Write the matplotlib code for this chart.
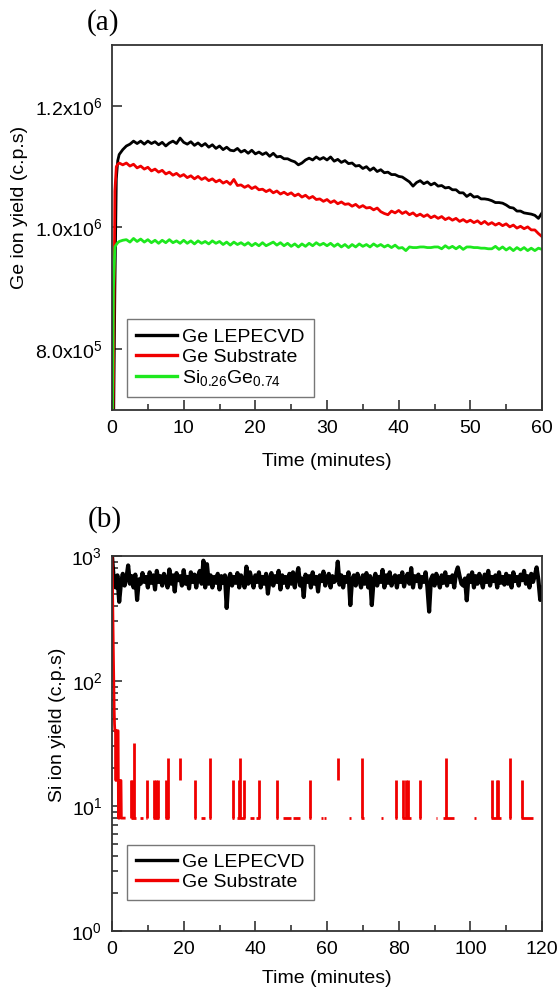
import numpy as np
import matplotlib
matplotlib.use("Agg")
import matplotlib.pyplot as plt
from matplotlib.ticker import MultipleLocator, FixedLocator, FixedFormatter, LogLocator, NullFormatter

plt.rcParams["font.family"] = ["Liberation Sans", "DejaVu Sans"]
plt.rcParams["mathtext.fontset"] = "custom"
plt.rcParams["mathtext.rm"] = "Liberation Sans"
plt.rcParams["mathtext.it"] = "Liberation Sans:italic"

# ---- panel (a): Ge ion yield, kc.p.s, time in minutes ----
ge_t = np.concatenate([[0.0, 0.2, 0.4, 0.6, 0.8], np.arange(1.0, 60.01, 0.5)])

ge_lepecvd = [600, 650, 900, 1080, 1110,
    1120, 1128, 1134, 1137, 1142, 1138, 1142, 1137, 1142, 1138, 1141,
    1136, 1140, 1134, 1139, 1142, 1138, 1147, 1140, 1137, 1141,
    1135, 1139, 1134, 1138, 1132, 1136, 1130, 1134, 1128, 1132,
    1127, 1126, 1130, 1124, 1127, 1122, 1127, 1121, 1124, 1120,
    1123, 1117, 1122, 1116, 1117, 1113, 1113, 1110, 1108, 1103,
    1106, 1111, 1114, 1111, 1116, 1112, 1115, 1111, 1116, 1109,
    1112, 1107, 1110, 1105, 1106, 1101, 1102, 1097, 1100, 1094,
    1098, 1092, 1095, 1090, 1091, 1087, 1087, 1084, 1083, 1079,
    1075, 1068, 1074, 1077, 1072, 1075, 1070, 1073, 1068, 1069,
    1065, 1066, 1062, 1062, 1057, 1057, 1051, 1055, 1050, 1051,
    1047, 1047, 1046, 1044, 1041, 1041, 1040, 1037, 1033, 1032,
    1027, 1027, 1024, 1023, 1022, 1020, 1015, 1024]

ge_substrate = [600, 750, 1060, 1100, 1104,
    1106, 1103, 1106, 1101, 1104, 1098, 1101, 1096, 1099, 1093, 1096,
    1091, 1094, 1088, 1091, 1086, 1089, 1084, 1087, 1082, 1085,
    1080, 1084, 1079, 1082, 1077, 1080, 1075, 1078, 1073, 1076,
    1071, 1079, 1069, 1070, 1066, 1069, 1064, 1067, 1062, 1063,
    1059, 1062, 1057, 1060, 1055, 1058, 1054, 1057, 1052, 1055,
    1050, 1053, 1048, 1051, 1046, 1047, 1043, 1046, 1041, 1044,
    1039, 1042, 1038, 1039, 1035, 1038, 1033, 1036, 1032, 1033,
    1029, 1032, 1026, 1023, 1021, 1027, 1024, 1028, 1023, 1026,
    1021, 1024, 1019, 1022, 1018, 1021, 1016, 1019, 1015, 1018,
    1013, 1016, 1012, 1015, 1010, 1013, 1009, 1012, 1008, 1011,
    1006, 1010, 1005, 1008, 1004, 1007, 1003, 1006, 1001, 1004,
    999, 1002, 998, 1001, 996, 996, 990, 985]

sige = [600, 900, 968, 972, 975,
    977, 979, 980, 976, 982, 977, 981, 976, 980, 975, 979,
    974, 979, 975, 980, 975, 978, 974, 979, 974, 978,
    973, 978, 974, 977, 973, 978, 974, 977, 972, 976,
    971, 976, 972, 975, 971, 975, 970, 974, 970, 975,
    970, 973, 976, 971, 975, 970, 974, 969, 973, 968,
    973, 969, 974, 970, 975, 971, 974, 970, 974, 969,
    973, 968, 972, 967, 972, 968, 973, 969, 972, 968,
    973, 969, 972, 968, 971, 967, 971, 966, 967, 962,
    968, 967, 967, 968, 968, 967, 967, 968, 968, 965,
    970, 966, 969, 965, 969, 964, 968, 968, 967, 967,
    966, 966, 965, 965, 969, 964, 968, 963, 967, 962,
    967, 963, 967, 962, 966, 962, 966, 964]

ge_yticks = [8.0e5, 1.0e6, 1.2e6]
ge_yticklabels = [r"8.0x10$^{5}$", r"1.0x10$^{6}$", r"1.2x10$^{6}$"]

# ---- panel (b): Si ion yield, c.p.s ----
si_t = np.arange(0, 120.01, 0.5)
si_lepecvd = [
    990, 640, 560, 700, 430, 610, 720, 580, 660, 840, 600, 690, 560, 710, 445, 650, 600, 730, 620, 680,
    560, 740, 610, 700, 540, 760, 620, 690, 580, 720, 650, 560, 780, 600, 700, 520, 730, 640, 690, 580,
    770, 600, 680, 550, 740, 620, 710, 560, 690, 760, 600, 917, 560, 860, 600, 700, 560, 680, 610, 720,
    540, 690, 610, 700, 384, 650, 720, 580, 680, 610, 730, 560, 700, 630, 560, 821, 600, 740, 640, 560,
    700, 620, 740, 560, 680, 600, 720, 500, 660, 730, 580, 690, 620, 760, 540, 700, 610, 680, 560, 720,
    600, 740, 560, 690, 800, 580, 660, 470, 710, 620, 690, 560, 740, 600, 680, 520, 700, 630, 750, 580,
    660, 720, 560, 690, 620, 640, 900, 590, 700, 560, 680, 620, 740, 405, 650, 700, 580, 720, 640, 560,
    700, 600, 730, 560, 690, 405, 640, 720, 580, 680, 620, 773, 560, 700, 610, 740, 580, 660, 700, 560,
    690, 620, 740, 570, 660, 720, 600, 800, 560, 690, 630, 710, 560, 680, 620, 740, 570, 359, 650, 700,
    580, 720, 640, 560, 700, 610, 740, 580, 680, 620, 700, 560, 730, 810, 690, 600, 580, 660, 442, 700,
    620, 740, 560, 690, 600, 720, 640, 560, 710, 620, 760, 580, 680, 630, 700, 560, 740, 610, 680, 590,
    720, 600, 690, 560, 740, 630, 680, 580, 710, 640, 760, 600, 690, 560, 720, 620, 700, 810, 640, 445,
    560]

# Ge substrate: initial decay, then single-count floor (8 c.p.s) with spikes
sub_decay_t = [0.0, 0.1, 0.2, 0.3, 0.4, 0.5, 0.6, 0.7, 0.8, 1.0, 1.1, 1.2, 1.4, 1.5, 1.7, 1.8,
               1.9, 2.1, 2.3, 2.5, 2.6, 3.4]
sub_decay_v = [1000, 700, 420, 250, 150, 95, 60, 45, 40, 40, 16, 40, 24, 40, 40, 8,
               16, 8, 16, 16, 8, 8]
sub_floor_start = [5.2, 7.8, 9.6, 11.4, 14.8, 23.0, 24.8, 27.0, 33.5, 35.0, 38.5, 40.2,
                   45.9, 47.6, 50.6, 55.0, 58.2, 59.2, 66.2, 69.6, 75.1, 79.0, 81.0, 85.8,
                   90.4, 92.4, 101.1, 105.8, 110.9, 114.2]
sub_floor_end = [6.6, 8.7, 9.9, 13.2, 15.9, 23.5, 26.0, 27.6, 34.0, 37.2, 39.6, 41.3,
                 46.3, 50.0, 52.6, 55.5, 58.8, 59.7, 66.6, 70.2, 75.5, 79.5, 83.4, 86.2,
                 90.8, 95.4, 101.5, 108.6, 111.3, 117.5]
sub_floor_level = 8
sub_spike_t = [5.3, 5.6, 6.1, 9.75, 11.6, 12.4, 12.8, 15.2, 15.7, 23.2, 27.3, 33.7, 35.4,
               35.7, 36.9, 40.9, 46.0, 55.3, 69.9, 79.2, 81.3, 82.0, 82.6, 86.0, 93.1, 106.0,
               107.4, 107.8, 111.1, 114.3]
sub_spike_v = [16, 16, 32, 16, 16, 16, 16, 16, 24, 16, 24, 16, 16,
               24, 16, 16, 16, 16, 24, 16, 16, 16, 16, 16, 24, 16,
               16, 16, 24, 16]
sub_step_t = [19.0, 63.2]          # isolated 24 -> 16 readings
sub_step_lo = [16, 16]
sub_step_hi = [24, 24]

C_BLACK = "#000000"
C_RED = "#f00000"
C_GREEN = "#1ee81e"
FS = 14

fig = plt.figure(figsize=(5.59, 9.98), dpi=100)
ax1 = fig.add_axes([0.2004, 0.5892, 0.7692, 0.3657])
ax2 = fig.add_axes([0.2004, 0.0671, 0.7692, 0.3758])

lw = 2.0
ax1.plot(ge_t, np.array(ge_lepecvd) * 1e3, color=C_BLACK, lw=lw, label="Ge LEPECVD")
ax1.plot(ge_t, np.array(ge_substrate) * 1e3, color=C_RED, lw=lw, label="Ge Substrate")
ax1.plot(ge_t, np.array(sige) * 1e3, color=C_GREEN, lw=lw, label=r"Si$_{0.26}$Ge$_{0.74}$")

ax1.set_xlim(0, 60)
ax1.set_ylim(7.0e5, 1.3e6)
ax1.xaxis.set_major_locator(MultipleLocator(10))
ax1.xaxis.set_minor_locator(MultipleLocator(5))
ax1.yaxis.set_major_locator(FixedLocator(ge_yticks))
ax1.yaxis.set_major_formatter(FixedFormatter(ge_yticklabels))

ax2.set_yscale("log", nonpositive="mask")
ax2.plot(si_t, si_lepecvd, color=C_BLACK, lw=3.0, label="Ge LEPECVD")
ax2.plot(sub_decay_t, sub_decay_v, color=C_RED, lw=lw, label="Ge Substrate")
ax2.hlines([sub_floor_level] * len(sub_floor_start), sub_floor_start, sub_floor_end,
           color=C_RED, lw=lw)
ax2.vlines(sub_spike_t, sub_floor_level, sub_spike_v, color=C_RED, lw=lw)
ax2.vlines(sub_step_t, sub_step_lo, sub_step_hi, color=C_RED, lw=lw)

ax2.set_xlim(0, 120)
ax2.set_ylim(1, 1000)
ax2.xaxis.set_major_locator(MultipleLocator(20))
ax2.xaxis.set_minor_locator(MultipleLocator(10))
ax2.yaxis.set_major_locator(LogLocator(base=10, numticks=10))
ax2.yaxis.set_minor_locator(LogLocator(base=10, subs=np.arange(2, 10), numticks=10))
ax2.yaxis.set_minor_formatter(NullFormatter())

for ax in (ax1, ax2):
    for sp in ax.spines.values():
        sp.set_color("#333333")
        sp.set_linewidth(1.3)
    ax.tick_params(which="both", direction="in", top=False, right=False,
                   labelsize=FS, color="#333333", width=1.2)
    ax.tick_params(which="major", length=7, pad=7)
    ax.tick_params(which="minor", length=4)
    ax.set_xlabel("Time (minutes)", fontsize=FS)

ax1.set_ylabel("Ge ion yield (c.p.s)", fontsize=FS)
ax2.set_ylabel("Si ion yield (c.p.s)", fontsize=FS)
ax1.yaxis.set_label_coords(-0.195, 0.556)
ax2.yaxis.set_label_coords(-0.108, 0.549)
ax1.xaxis.set_label_coords(0.5, -0.118)
ax2.xaxis.set_label_coords(0.5, -0.104)

leg_kw = dict(loc="lower left", fontsize=FS, frameon=True, fancybox=False,
              handlelength=2.1, handletextpad=0.3, labelspacing=0.12,
              borderaxespad=0, borderpad=0.45)
leg1 = ax1.legend(bbox_to_anchor=(0.035, 0.036), **leg_kw)
leg2 = ax2.legend(bbox_to_anchor=(0.035, 0.083), **leg_kw)
for leg in (leg1, leg2):
    leg.get_frame().set_edgecolor("#555555")
    leg.get_frame().set_linewidth(1.0)
    for h in leg.get_lines():
        h.set_linewidth(2.4)

fig.text(103 / 559, 1 - 23 / 998, "(a)", family="Liberation Serif", fontsize=21,
         ha="center", va="center")
fig.text(105 / 559, 1 - 520 / 998, "(b)", family="Liberation Serif", fontsize=21,
         ha="center", va="center")

fig.savefig("out.png", dpi=100)
